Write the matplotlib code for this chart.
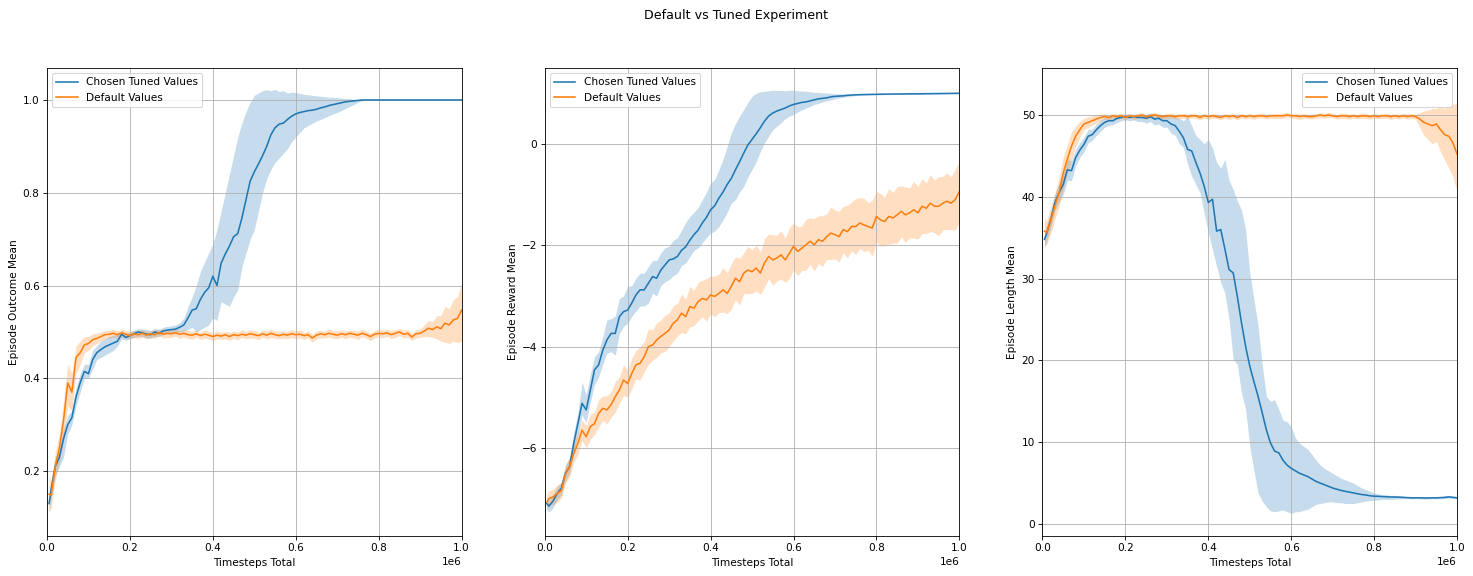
import numpy as np
import matplotlib
matplotlib.use("Agg")
import matplotlib.pyplot as plt

# Timesteps (thousands)
steps_k = [5, 10, 20, 30, 40, 50, 60, 70, 80, 90,
           100, 110, 120, 130, 140, 150, 160, 170, 180, 190,
           200, 210, 220, 230, 240, 250, 260, 270, 280, 290,
           300, 310, 320, 330, 340, 350, 360, 370, 380, 390,
           400, 410, 420, 430, 440, 450, 460, 470, 480, 490,
           500, 510, 520, 530, 540, 550, 560, 570, 580, 590,
           600, 610, 620, 630, 640, 650, 660, 670, 680, 690,
           700, 710, 720, 730, 740, 750, 760, 770, 780, 790,
           800, 810, 820, 830, 840, 850, 860, 870, 880, 890,
           900, 910, 920, 930, 940, 950, 960, 970, 980, 990,
           1000]

# ---------- Episode Outcome Mean ----------
outcome_tuned = [0.13, 0.16, 0.21, 0.23, 0.27, 0.30, 0.315, 0.36, 0.39, 0.415,
                 0.41, 0.44, 0.455, 0.462, 0.468, 0.472, 0.476, 0.48, 0.495, 0.488,
                 0.492, 0.496, 0.50, 0.498, 0.495, 0.494, 0.50, 0.497, 0.502, 0.504,
                 0.505, 0.506, 0.51, 0.515, 0.53, 0.547, 0.55, 0.57, 0.585, 0.595,
                 0.62, 0.60, 0.648, 0.668, 0.685, 0.705, 0.712, 0.745, 0.785, 0.825,
                 0.845, 0.862, 0.88, 0.90, 0.925, 0.94, 0.948, 0.95, 0.958, 0.965,
                 0.97, 0.973, 0.975, 0.977, 0.978, 0.98, 0.983, 0.985, 0.988, 0.99,
                 0.992, 0.994, 0.996, 0.997, 0.998, 0.999, 1.0, 1.0, 1.0, 1.0,
                 1.0, 1.0, 1.0, 1.0, 1.0, 1.0, 1.0, 1.0, 1.0, 1.0,
                 1.0, 1.0, 1.0, 1.0, 1.0, 1.0, 1.0, 1.0, 1.0, 1.0,
                 1.0]
outcome_tuned_lo = [0.11, 0.14, 0.19, 0.21, 0.23, 0.28, 0.30, 0.34, 0.37, 0.40,
                    0.40, 0.42, 0.44, 0.445, 0.45, 0.455, 0.46, 0.47, 0.485, 0.482,
                    0.485, 0.488, 0.49, 0.49, 0.486, 0.487, 0.49, 0.49, 0.495, 0.497,
                    0.498, 0.498, 0.50, 0.502, 0.505, 0.51, 0.50, 0.505, 0.51, 0.515,
                    0.53, 0.525, 0.565, 0.56, 0.555, 0.575, 0.59, 0.64, 0.67, 0.70,
                    0.72, 0.76, 0.80, 0.83, 0.85, 0.865, 0.875, 0.885, 0.895, 0.91,
                    0.92, 0.93, 0.94, 0.945, 0.95, 0.955, 0.958, 0.962, 0.966, 0.97,
                    0.973, 0.977, 0.982, 0.986, 0.99, 0.995, 0.998, 0.999, 1.0, 1.0,
                    1.0, 1.0, 1.0, 1.0, 1.0, 1.0, 1.0, 1.0, 1.0, 1.0,
                    1.0, 1.0, 1.0, 1.0, 1.0, 1.0, 1.0, 1.0, 1.0, 1.0,
                    1.0]
outcome_tuned_hi = [0.15, 0.18, 0.23, 0.25, 0.29, 0.32, 0.33, 0.38, 0.41, 0.43,
                    0.43, 0.46, 0.47, 0.48, 0.485, 0.49, 0.493, 0.495, 0.503, 0.497,
                    0.50, 0.504, 0.507, 0.506, 0.505, 0.503, 0.508, 0.505, 0.51, 0.512,
                    0.513, 0.515, 0.52, 0.53, 0.555, 0.575, 0.60, 0.63, 0.65, 0.67,
                    0.69, 0.72, 0.76, 0.80, 0.84, 0.88, 0.92, 0.95, 0.975, 0.995,
                    1.01, 1.015, 1.02, 1.022, 1.02, 1.023, 1.018, 1.02, 1.015, 1.017,
                    1.016, 1.014, 1.012, 1.011, 1.01, 1.009, 1.008, 1.007, 1.006, 1.006,
                    1.005, 1.004, 1.003, 1.003, 1.002, 1.001, 1.001, 1.0, 1.0, 1.0,
                    1.0, 1.0, 1.0, 1.0, 1.0, 1.0, 1.0, 1.0, 1.0, 1.0,
                    1.0, 1.0, 1.0, 1.0, 1.0, 1.0, 1.0, 1.0, 1.0, 1.0,
                    1.0]
outcome_default = [0.15, 0.148, 0.21, 0.25, 0.31, 0.39, 0.37, 0.445, 0.455, 0.472,
                   0.475, 0.483, 0.486, 0.49, 0.494, 0.495, 0.497, 0.494, 0.498, 0.495,
                   0.492, 0.496, 0.494, 0.497, 0.493, 0.496, 0.494, 0.499, 0.495, 0.497,
                   0.496, 0.498, 0.495, 0.497, 0.494, 0.493, 0.496, 0.492, 0.495, 0.493,
                   0.49, 0.493, 0.491, 0.494, 0.49, 0.494, 0.492, 0.495, 0.493, 0.496,
                   0.494, 0.492, 0.496, 0.493, 0.497, 0.494, 0.492, 0.495, 0.493, 0.496,
                   0.494, 0.495, 0.492, 0.494, 0.487, 0.493, 0.496, 0.494, 0.497, 0.495,
                   0.493, 0.496, 0.494, 0.497, 0.495, 0.493, 0.497, 0.494, 0.49, 0.495,
                   0.497, 0.496, 0.498, 0.494, 0.497, 0.50, 0.495, 0.497, 0.489, 0.496,
                   0.497, 0.502, 0.508, 0.505, 0.511, 0.507, 0.519, 0.515, 0.526, 0.529,
                   0.547]
outcome_default_gap_lo = [0.04, 0.028, 0.03, 0.03, 0.04, 0.05, 0.04, 0.035, 0.025, 0.017,
                          0.015, 0.013, 0.011, 0.01, 0.009, 0.008, 0.008, 0.007, 0.009, 0.008,
                          0.007, 0.008, 0.009, 0.008, 0.007, 0.009, 0.008, 0.007, 0.008, 0.009,
                          0.008, 0.007, 0.009, 0.008, 0.008, 0.009, 0.007, 0.008, 0.009, 0.008,
                          0.009, 0.008, 0.007, 0.009, 0.008, 0.008, 0.009, 0.007, 0.008, 0.009,
                          0.008, 0.009, 0.007, 0.008, 0.009, 0.008, 0.007, 0.009, 0.008, 0.008,
                          0.009, 0.008, 0.008, 0.007, 0.009, 0.008, 0.009, 0.007, 0.008, 0.009,
                          0.008, 0.007, 0.009, 0.008, 0.008, 0.009, 0.007, 0.008, 0.009, 0.008,
                          0.008, 0.009, 0.007, 0.008, 0.009, 0.008, 0.008, 0.009, 0.008, 0.009,
                          0.009, 0.012, 0.018, 0.017, 0.026, 0.027, 0.041, 0.04, 0.046, 0.052,
                          0.067]
outcome_default_gap_hi = [0.04, 0.032, 0.03, 0.03, 0.04, 0.04, 0.04, 0.025, 0.025, 0.018,
                          0.015, 0.013, 0.011, 0.01, 0.009, 0.008, 0.009, 0.008, 0.007, 0.008,
                          0.009, 0.007, 0.008, 0.009, 0.008, 0.007, 0.009, 0.008, 0.008, 0.007,
                          0.009, 0.008, 0.007, 0.008, 0.009, 0.008, 0.008, 0.007, 0.009, 0.008,
                          0.008, 0.009, 0.008, 0.007, 0.009, 0.008, 0.007, 0.009, 0.008, 0.008,
                          0.009, 0.007, 0.008, 0.009, 0.008, 0.008, 0.009, 0.007, 0.008, 0.009,
                          0.008, 0.009, 0.007, 0.008, 0.008, 0.009, 0.007, 0.008, 0.009, 0.008,
                          0.009, 0.008, 0.008, 0.007, 0.009, 0.008, 0.009, 0.008, 0.007, 0.008,
                          0.009, 0.008, 0.008, 0.009, 0.007, 0.008, 0.009, 0.008, 0.008, 0.009,
                          0.009, 0.013, 0.017, 0.017, 0.024, 0.028, 0.036, 0.035, 0.044, 0.046,
                          0.058]

# ---------- Episode Reward Mean ----------
reward_tuned = [-7.10, -7.15, -7.05, -6.90, -6.80, -6.50, -6.37, -5.91, -5.52, -5.12,
                -5.25, -4.86, -4.46, -4.36, -4.07, -3.87, -3.74, -3.74, -3.41, -3.31,
                -3.28, -3.14, -2.98, -2.88, -2.88, -2.75, -2.62, -2.65, -2.49, -2.39,
                -2.29, -2.27, -2.22, -2.10, -2.03, -1.90, -1.79, -1.70, -1.56, -1.45,
                -1.30, -1.22, -1.07, -0.95, -0.80, -0.68, -0.51, -0.35, -0.18, -0.02,
                0.09, 0.20, 0.32, 0.45, 0.55, 0.61, 0.65, 0.68, 0.71, 0.75,
                0.78, 0.80, 0.82, 0.83, 0.85, 0.87, 0.89, 0.90, 0.91, 0.93,
                0.94, 0.945, 0.95, 0.96, 0.965, 0.97, 0.973, 0.975, 0.977, 0.979,
                0.98, 0.982, 0.983, 0.984, 0.985, 0.986, 0.987, 0.988, 0.989, 0.99,
                0.99, 0.991, 0.992, 0.993, 0.994, 0.995, 0.996, 0.997, 0.998, 0.999,
                1.0]
reward_tuned_lo = [-7.22, -7.27, -7.18, -7.03, -6.93, -6.65, -6.50, -6.10, -5.75, -5.35,
                   -5.50, -5.10, -4.75, -4.60, -4.35, -4.13, -4.10, -4.17, -3.75, -3.60,
                   -3.54, -3.40, -3.30, -3.20, -3.20, -3.14, -2.95, -3.00, -2.80, -2.72,
                   -2.68, -2.60, -2.55, -2.40, -2.35, -2.22, -2.10, -2.05, -1.95, -1.85,
                   -1.76, -1.72, -1.63, -1.50, -1.35, -1.17, -1.10, -0.95, -0.84, -0.65,
                   -0.51, -0.35, -0.15, 0.02, 0.15, 0.28, 0.35, 0.42, 0.50, 0.55,
                   0.58, 0.63, 0.67, 0.71, 0.74, 0.78, 0.80, 0.83, 0.85, 0.87,
                   0.89, 0.91, 0.92, 0.935, 0.945, 0.955, 0.96, 0.963, 0.966, 0.968,
                   0.97, 0.972, 0.974, 0.976, 0.977, 0.978, 0.979, 0.98, 0.981, 0.982,
                   0.982, 0.983, 0.984, 0.985, 0.986, 0.987, 0.988, 0.989, 0.99, 0.991,
                   0.992]
reward_tuned_hi = [-6.98, -7.03, -6.92, -6.77, -6.67, -6.35, -6.20, -5.70, -5.30, -4.70,
                   -4.95, -4.55, -4.20, -4.10, -3.80, -3.47, -3.45, -3.40, -3.05, -3.00,
                   -2.81, -2.80, -2.65, -2.55, -2.55, -2.42, -2.30, -2.30, -2.15, -2.05,
                   -2.02, -1.90, -1.85, -1.70, -1.55, -1.43, -1.35, -1.25, -1.10, -0.95,
                   -0.77, -0.70, -0.51, -0.30, -0.05, 0.22, 0.40, 0.55, 0.68, 0.82,
                   0.94, 1.00, 1.03, 1.04, 1.05, 1.06, 1.055, 1.06, 1.05, 1.06,
                   1.06, 1.05, 1.045, 1.04, 1.03, 1.02, 1.015, 1.01, 1.005, 1.00,
                   0.99, 0.988, 0.987, 0.986, 0.986, 0.985, 0.985, 0.986, 0.987, 0.988,
                   0.989, 0.99, 0.991, 0.992, 0.993, 0.994, 0.995, 0.996, 0.997, 0.998,
                   0.998, 0.999, 1.0, 1.001, 1.002, 1.003, 1.004, 1.005, 1.006, 1.007,
                   1.008]
reward_default = [-7.07, -7.00, -6.97, -6.90, -6.84, -6.51, -6.37, -6.11, -5.91, -5.65,
                  -5.78, -5.58, -5.52, -5.32, -5.22, -5.25, -5.15, -4.99, -4.86, -4.66,
                  -4.73, -4.53, -4.36, -4.33, -4.20, -4.00, -3.97, -3.87, -3.80, -3.74,
                  -3.67, -3.54, -3.47, -3.34, -3.41, -3.21, -3.24, -3.11, -3.05, -3.08,
                  -2.98, -3.01, -2.95, -2.88, -2.95, -2.81, -2.65, -2.72, -2.55, -2.49,
                  -2.52, -2.45, -2.55, -2.35, -2.22, -2.29, -2.25, -2.19, -2.29, -2.16,
                  -2.02, -2.12, -2.06, -1.99, -1.92, -1.99, -1.89, -1.92, -1.83, -1.76,
                  -1.79, -1.83, -1.69, -1.73, -1.63, -1.63, -1.56, -1.60, -1.63, -1.66,
                  -1.43, -1.50, -1.53, -1.43, -1.46, -1.40, -1.33, -1.40, -1.36, -1.30,
                  -1.36, -1.23, -1.27, -1.17, -1.23, -1.23, -1.17, -1.13, -1.17, -1.10,
                  -0.94]
reward_default_halfwidth = [0.15, 0.15, 0.15, 0.17, 0.15, 0.18, 0.2, 0.18, 0.22, 0.2,
                            0.22, 0.25, 0.22, 0.27, 0.24, 0.28, 0.25, 0.3, 0.26, 0.3,
                            0.27, 0.3, 0.28, 0.33, 0.3, 0.35, 0.3, 0.34, 0.32, 0.36,
                            0.33, 0.35, 0.32, 0.38, 0.34, 0.4, 0.35, 0.38, 0.36, 0.42,
                            0.37, 0.4, 0.38, 0.44, 0.4, 0.45, 0.42, 0.46, 0.4, 0.47,
                            0.43, 0.45, 0.42, 0.48, 0.44, 0.5, 0.45, 0.48, 0.44, 0.5,
                            0.46, 0.48, 0.44, 0.5, 0.46, 0.52, 0.47, 0.5, 0.45, 0.52,
                            0.48, 0.5, 0.46, 0.52, 0.48, 0.55, 0.5, 0.53, 0.47, 0.55,
                            0.5, 0.52, 0.48, 0.55, 0.5, 0.56, 0.5, 0.55, 0.49, 0.56,
                            0.52, 0.54, 0.5, 0.56, 0.52, 0.58, 0.53, 0.56, 0.52, 0.6,
                            0.6]

# ---------- Episode Length Mean ----------
length_tuned = [34.8, 35.5, 37.2, 39.3, 40.5, 41.5, 43.3, 43.2, 44.8, 45.7,
                46.4, 47.4, 47.6, 48.2, 48.7, 49.1, 49.3, 49.3, 49.6, 49.7,
                49.8, 49.7, 49.8, 49.7, 49.7, 49.6, 49.8, 49.5, 49.6, 49.3,
                49.3, 48.9, 48.7, 48.0, 47.2, 45.8, 45.6, 44.2, 42.9, 41.3,
                39.3, 39.7, 35.8, 36.0, 33.6, 31.1, 30.7, 27.8, 24.6, 21.7,
                19.3, 17.4, 15.6, 13.6, 11.5, 9.9, 8.9, 8.7, 7.8, 7.2,
                6.8, 6.5, 6.2, 6.0, 5.8, 5.5, 5.2, 5.0, 4.8, 4.6,
                4.4, 4.25, 4.1, 4.0, 3.9, 3.8, 3.7, 3.6, 3.55, 3.45,
                3.4, 3.38, 3.35, 3.33, 3.3, 3.3, 3.28, 3.25, 3.22, 3.2,
                3.2, 3.2, 3.18, 3.18, 3.2, 3.2, 3.22, 3.25, 3.32, 3.25,
                3.2]
length_tuned_lo = [33.8, 34.5, 36.2, 38.3, 39.3, 40.3, 42.0, 42.0, 43.8, 44.8,
                   45.5, 46.6, 46.9, 47.5, 48.0, 48.5, 48.7, 48.8, 49.1, 49.3,
                   49.4, 49.3, 49.4, 49.2, 49.2, 49.0, 49.2, 48.8, 48.9, 48.5,
                   48.5, 47.8, 47.5, 46.5, 46.0, 44.0, 42.5, 41.5, 40.5, 38.0,
                   35.6, 33.5, 31.5, 29.5, 28.2, 25.0, 20.1, 19.5, 16.0, 14.0,
                   9.5, 6.5, 3.8, 2.8, 2.1, 1.6, 1.5, 1.6, 1.7, 1.5,
                   1.3, 1.5, 1.5, 1.7, 1.8, 2.1, 2.4, 2.5, 2.6, 2.7,
                   2.7, 2.6, 2.6, 2.5, 2.5, 2.5, 2.6, 2.7, 2.8, 2.85,
                   2.9, 2.95, 3.0, 3.0, 3.0, 3.05, 3.05, 3.1, 3.08, 3.06,
                   3.06, 3.07, 3.05, 3.05, 3.07, 3.07, 3.09, 3.11, 3.15, 3.1,
                   3.06]
length_tuned_hi = [35.8, 36.5, 38.2, 40.3, 41.7, 42.7, 44.6, 44.4, 45.8, 46.6,
                   47.3, 48.2, 48.3, 48.9, 49.4, 49.7, 49.9, 49.8, 50.0, 50.1,
                   50.1, 50.1, 50.1, 50.1, 50.1, 50.1, 50.2, 50.1, 50.1, 50.0,
                   50.0, 49.9, 49.8, 49.6, 49.3, 49.8, 48.7, 47.5, 47.0, 46.5,
                   47.0, 46.0, 44.2, 43.5, 44.6, 42.0, 40.9, 39.5, 38.4, 36.0,
                   30.7, 27.5, 24.2, 19.5, 15.6, 15.0, 15.2, 14.0, 12.7, 12.5,
                   11.9, 10.5, 9.9, 9.5, 9.1, 8.5, 7.8, 7.2, 6.8, 6.5,
                   6.2, 5.9, 5.6, 5.4, 5.2, 5.0, 4.7, 4.4, 4.2, 4.0,
                   3.8, 3.7, 3.6, 3.55, 3.5, 3.5, 3.45, 3.42, 3.38, 3.36,
                   3.35, 3.35, 3.33, 3.33, 3.35, 3.36, 3.38, 3.42, 3.5, 3.42,
                   3.38]
length_default = [35.8, 35.6, 37.2, 38.9, 40.5, 42.9, 44.6, 46.2, 47.4, 48.2,
                  48.9, 49.1, 49.3, 49.5, 49.7, 49.8, 49.7, 49.9, 49.8, 49.9,
                  49.7, 49.9, 49.8, 49.9, 50.0, 49.8, 49.9, 50.0, 49.9, 49.8,
                  49.9, 49.9, 49.8, 49.9, 49.9, 49.8, 49.9, 49.9, 49.7, 49.9,
                  49.8, 49.9, 49.8, 49.7, 49.9, 49.8, 49.9, 49.7, 49.9, 49.8,
                  49.9, 49.8, 49.9, 49.9, 49.8, 49.9, 49.9, 49.9, 49.9, 50.0,
                  49.9, 49.9, 49.8, 49.9, 49.8, 49.8, 49.9, 50.0, 49.9, 50.0,
                  49.9, 49.8, 49.9, 49.9, 49.8, 49.9, 49.8, 49.9, 49.9, 49.8,
                  49.9, 49.8, 49.9, 49.9, 49.8, 49.9, 49.8, 49.9, 49.8, 49.9,
                  49.8, 49.5, 49.1, 48.9, 48.7, 48.9, 48.2, 47.6, 47.4, 46.6,
                  45.2]
length_default_gap_lo = [1.8, 1.4, 1.7, 1.6, 1.7, 1.9, 1.8, 1.7, 1.2, 0.9,
                         0.7, 0.6, 0.5, 0.5, 0.4, 0.35, 0.3, 0.3, 0.35, 0.3,
                         0.3, 0.25, 0.35, 0.3, 0.3, 0.35, 0.25, 0.3, 0.3, 0.35,
                         0.3, 0.25, 0.3, 0.35, 0.3, 0.3, 0.25, 0.35, 0.3, 0.3,
                         0.35, 0.3, 0.25, 0.3, 0.3, 0.35, 0.3, 0.3, 0.25, 0.3,
                         0.3, 0.35, 0.3, 0.25, 0.3, 0.3, 0.35, 0.3, 0.3, 0.25,
                         0.3, 0.3, 0.35, 0.3, 0.25, 0.3, 0.3, 0.35, 0.3, 0.3,
                         0.25, 0.3, 0.3, 0.35, 0.3, 0.3, 0.25, 0.3, 0.35, 0.3,
                         0.3, 0.25, 0.3, 0.3, 0.35, 0.3, 0.3, 0.25, 0.3, 0.35,
                         0.3, 1.0, 1.6, 1.9, 2.2, 2.1, 2.7, 3.1, 3.9, 4.1,
                         4.7]
length_default_gap_hi = [1.7, 1.4, 1.6, 1.6, 1.8, 1.9, 1.8, 1.7, 1.3, 1.0,
                         0.7, 0.7, 0.6, 0.5, 0.4, 0.35, 0.3, 0.3, 0.3, 0.3,
                         0.35, 0.3, 0.25, 0.3, 0.3, 0.25, 0.35, 0.3, 0.3, 0.25,
                         0.3, 0.35, 0.3, 0.25, 0.3, 0.35, 0.3, 0.25, 0.3, 0.3,
                         0.25, 0.3, 0.35, 0.3, 0.25, 0.3, 0.3, 0.35, 0.3, 0.25,
                         0.3, 0.25, 0.3, 0.35, 0.3, 0.25, 0.3, 0.3, 0.35, 0.3,
                         0.25, 0.3, 0.3, 0.25, 0.35, 0.3, 0.25, 0.3, 0.3, 0.35,
                         0.3, 0.25, 0.35, 0.3, 0.3, 0.25, 0.3, 0.35, 0.3, 0.25,
                         0.3, 0.3, 0.25, 0.35, 0.3, 0.25, 0.3, 0.3, 0.35, 0.3,
                         0.3, 0.8, 1.4, 1.7, 2.1, 1.9, 2.8, 3.2, 3.8, 4.7,
                         6.3]

label_tuned = "Chosen Tuned Values"
label_default = "Default Values"
c_tuned = "#1f77b4"
c_default = "#ff7f0e"

x = np.array(steps_k, dtype=float) * 1000.0

DPI = 76
fig, axes = plt.subplots(1, 3, figsize=(1473 / DPI, 576 / DPI), dpi=DPI)
fig.subplots_adjust(left=0.0319, right=0.9892, top=0.882, bottom=0.0694, wspace=0.2005)
fig.suptitle("Default vs Tuned Experiment", y=0.985)

panels = [
    dict(ax=axes[0], ylabel="Episode Outcome Mean",
         t=outcome_tuned, tlo=outcome_tuned_lo, thi=outcome_tuned_hi,
         d=outcome_default,
         dlo=np.array(outcome_default) - np.array(outcome_default_gap_lo),
         dhi=np.array(outcome_default) + np.array(outcome_default_gap_hi),
         ylim=(0.06, 1.069), loc="upper left"),
    dict(ax=axes[1], ylabel="Episode Reward Mean",
         t=reward_tuned, tlo=reward_tuned_lo, thi=reward_tuned_hi,
         d=reward_default,
         dlo=np.array(reward_default) - np.array(reward_default_halfwidth),
         dhi=np.array(reward_default) + np.array(reward_default_halfwidth),
         ylim=(-7.74, 1.50), loc="upper left"),
    dict(ax=axes[2], ylabel="Episode Length Mean",
         t=length_tuned, tlo=length_tuned_lo, thi=length_tuned_hi,
         d=length_default,
         dlo=np.array(length_default) - np.array(length_default_gap_lo),
         dhi=np.array(length_default) + np.array(length_default_gap_hi),
         ylim=(-1.47, 55.75), loc="upper right"),
]

for p in panels:
    ax = p["ax"]
    ax.plot(x, p["t"], color=c_tuned, lw=1.5, label=label_tuned)
    ax.fill_between(x, p["tlo"], p["thi"], color=c_tuned, alpha=0.25, linewidth=0)
    ax.plot(x, p["d"], color=c_default, lw=1.5, label=label_default)
    ax.fill_between(x, p["dlo"], p["dhi"], color=c_default, alpha=0.25, linewidth=0)
    ax.set_xlim(0, 1e6)
    ax.set_ylim(*p["ylim"])
    ax.set_xlabel("Timesteps Total")
    ax.set_ylabel(p["ylabel"])
    ax.grid(True)
    ax.legend(loc=p["loc"])

fig.savefig("out.png", dpi=DPI)
